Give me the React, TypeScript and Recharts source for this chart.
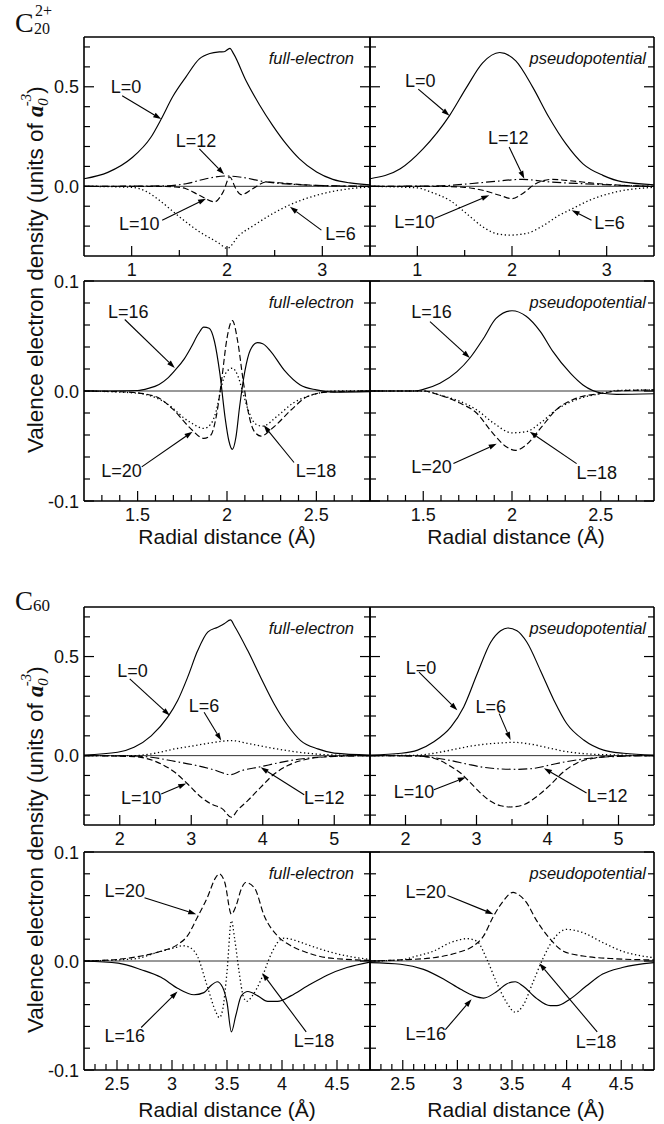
import React from 'react';
import { LineChart, Line, XAxis, YAxis, ReferenceLine, ReferenceDot } from 'recharts';

type Pt = [number, number];
type Dash = 'solid' | 'dashed' | 'dotted' | 'dashdot';

// ---------------- C20 2+ , full-electron, low L ----------------
const c20FeL0: Pt[] = [[0.5,0.038],[0.75,0.07],[1.0,0.142],[1.2,0.245],[1.31,0.338],[1.43,0.45],[1.57,0.55],[1.71,0.64],[1.82,0.667],[1.92,0.675],[1.97,0.676],[2.03,0.693],[2.07,0.665],[2.2,0.53],[2.34,0.41],[2.48,0.305],[2.62,0.213],[2.76,0.138],[2.94,0.072],[3.11,0.035],[3.29,0.017],[3.5,0.008]];
const c20FeL10: Pt[] = [[0.5,0],[1.3,0],[1.45,-0.003],[1.57,-0.012],[1.71,-0.045],[1.87,-0.078],[1.96,-0.028],[2.03,0.047],[2.09,-0.01],[2.15,-0.042],[2.27,-0.012],[2.41,0.022],[2.6,0.016],[2.8,0.008],[3.1,0.002],[3.5,0]];
const c20FeL12: Pt[] = [[0.5,0],[1.3,0.002],[1.57,0.013],[1.78,0.038],[1.99,0.052],[2.13,0.047],[2.41,0.022],[2.76,0.008],[3.2,0.002],[3.5,0]];
const c20FeL6: Pt[] = [[0.5,0],[1.0,-0.005],[1.15,-0.025],[1.29,-0.07],[1.5,-0.153],[1.71,-0.228],[1.92,-0.287],[2.0,-0.312],[2.13,-0.245],[2.27,-0.2],[2.48,-0.137],[2.65,-0.095],[2.94,-0.045],[3.29,-0.012],[3.5,-0.003]];

// ---------------- C20 2+ , pseudopotential, low L ----------------
const c20PpL0: Pt[] = [[0.5,0.038],[0.82,0.088],[1.06,0.188],[1.34,0.355],[1.52,0.497],[1.69,0.62],[1.87,0.672],[2.04,0.63],[2.22,0.497],[2.39,0.347],[2.57,0.213],[2.75,0.113],[2.96,0.055],[3.17,0.022],[3.5,0.008]];
const c20PpL10: Pt[] = [[0.5,0],[1.2,0],[1.5,-0.005],[1.69,-0.02],[1.87,-0.045],[2.0,-0.062],[2.11,-0.037],[2.25,0.013],[2.43,0.035],[2.57,0.03],[2.92,0.013],[3.2,0.004],[3.5,0]];
const c20PpL12: Pt[] = [[0.5,0],[1.2,0.002],[1.76,0.022],[2.11,0.035],[2.4,0.022],[2.75,0.013],[3.27,0.003],[3.5,0]];
const c20PpL6: Pt[] = [[0.5,0],[1.0,-0.008],[1.15,-0.03],[1.34,-0.07],[1.52,-0.137],[1.69,-0.203],[1.83,-0.237],[1.97,-0.245],[2.15,-0.237],[2.32,-0.2],[2.5,-0.145],[2.64,-0.112],[2.82,-0.07],[3.1,-0.028],[3.5,-0.005]];

// ---------------- C20 2+ , full-electron, high L ----------------
const c20FeL16: Pt[] = [[1.2,0],[1.5,0.0005],[1.56,0.0024],[1.62,0.006],[1.67,0.012],[1.71,0.019],[1.76,0.029],[1.8,0.04],[1.84,0.052],[1.87,0.058],[1.9,0.057],[1.93,0.045],[1.96,0.016],[1.99,-0.025],[2.01,-0.045],[2.03,-0.053],[2.05,-0.042],[2.07,-0.015],[2.1,0.018],[2.13,0.037],[2.17,0.044],[2.2,0.043],[2.24,0.037],[2.32,0.019],[2.41,0.0055],[2.5,0.001],[2.6,-0.001],[2.8,-0.0006]];
const c20FeL20: Pt[] = [[1.2,0],[1.45,-0.001],[1.6,-0.005],[1.7,-0.017],[1.79,-0.033],[1.87,-0.043],[1.91,-0.04],[1.94,-0.023],[1.97,0.01],[2.0,0.048],[2.03,0.064],[2.06,0.045],[2.09,0.01],[2.12,-0.02],[2.15,-0.036],[2.19,-0.041],[2.26,-0.033],[2.36,-0.017],[2.45,-0.005],[2.56,-0.001],[2.8,0]];
const c20FeL18: Pt[] = [[1.2,0],[1.5,-0.002],[1.65,-0.01],[1.79,-0.028],[1.87,-0.034],[1.91,-0.03],[1.94,-0.018],[1.97,0.005],[2.0,0.018],[2.03,0.0207],[2.06,0.014],[2.09,-0.002],[2.12,-0.018],[2.16,-0.03],[2.2,-0.032],[2.28,-0.023],[2.37,-0.011],[2.49,-0.003],[2.6,0],[2.8,0]];

// ---------------- C20 2+ , pseudopotential, high L ----------------
const c20PpL16: Pt[] = [[1.2,0],[1.45,0],[1.5,0.0015],[1.594,0.007],[1.69,0.0176],[1.763,0.03],[1.84,0.048],[1.91,0.066],[2.0,0.073],[2.08,0.068],[2.16,0.054],[2.23,0.036],[2.33,0.016],[2.4,0.0055],[2.51,-0.002],[2.59,-0.003],[2.8,-0.0025]];
const c20PpL20: Pt[] = [[1.2,0],[1.5,0],[1.59,-0.0036],[1.707,-0.011],[1.8,-0.02],[1.895,-0.039],[1.97,-0.051],[2.02,-0.054],[2.08,-0.049],[2.16,-0.034],[2.25,-0.017],[2.36,-0.0067],[2.51,-0.002],[2.59,0],[2.8,0.001]];
const c20PpL18: Pt[] = [[1.2,0],[1.5,0],[1.6,-0.004],[1.7,-0.009],[1.8,-0.017],[1.895,-0.029],[2.0,-0.038],[2.08,-0.037],[2.16,-0.029],[2.25,-0.017],[2.36,-0.008],[2.51,-0.002],[2.6,0.0005],[2.8,0.001]];

// ---------------- C60 , full-electron, low L ----------------
const c60FeL0: Pt[] = [[1.5,0.003],[1.97,0.017],[2.2,0.042],[2.44,0.1],[2.67,0.194],[2.81,0.278],[2.95,0.396],[3.09,0.53],[3.23,0.623],[3.37,0.648],[3.46,0.665],[3.55,0.685],[3.6,0.657],[3.79,0.53],[3.97,0.396],[4.16,0.261],[4.35,0.152],[4.53,0.076],[4.77,0.034],[5.0,0.013],[5.5,0.003]];
const c60FeL6: Pt[] = [[1.5,0],[2.2,0],[2.49,0.012],[2.77,0.034],[3.04,0.05],[3.32,0.067],[3.56,0.076],[3.79,0.062],[4.07,0.042],[4.35,0.025],[4.63,0.012],[5.0,0.003],[5.5,0]];
const c60FeL12: Pt[] = [[1.5,0],[2.2,-0.002],[2.44,-0.008],[2.77,-0.029],[3.04,-0.047],[3.32,-0.072],[3.55,-0.096],[3.7,-0.076],[3.97,-0.056],[4.25,-0.034],[4.53,-0.017],[4.9,-0.005],[5.5,0]];
const c60FeL10: Pt[] = [[1.5,0],[2.2,-0.005],[2.53,-0.034],[2.77,-0.084],[2.95,-0.143],[3.14,-0.21],[3.28,-0.244],[3.44,-0.27],[3.56,-0.311],[3.65,-0.274],[3.79,-0.227],[3.97,-0.16],[4.16,-0.093],[4.35,-0.05],[4.63,-0.017],[5.0,-0.004],[5.5,0]];

// ---------------- C60 , pseudopotential, low L ----------------
const c60PpL0: Pt[] = [[1.5,0.003],[1.94,0.012],[2.17,0.028],[2.4,0.07],[2.64,0.145],[2.82,0.246],[3.01,0.413],[3.2,0.572],[3.34,0.63],[3.44,0.644],[3.57,0.63],[3.71,0.572],[3.9,0.43],[4.09,0.28],[4.27,0.162],[4.51,0.079],[4.79,0.028],[5.07,0.012],[5.5,0.003]];
const c60PpL6: Pt[] = [[1.5,0],[2.17,0.002],[2.4,0.012],[2.64,0.028],[2.87,0.045],[3.1,0.057],[3.34,0.064],[3.53,0.067],[3.76,0.058],[4.04,0.037],[4.27,0.02],[4.6,0.008],[5.0,0.003],[5.5,0]];
const c60PpL12: Pt[] = [[1.5,0],[2.17,-0.002],[2.4,-0.01],[2.64,-0.025],[2.87,-0.043],[3.1,-0.059],[3.34,-0.067],[3.57,-0.069],[3.81,-0.064],[4.04,-0.047],[4.27,-0.03],[4.6,-0.013],[4.98,-0.004],[5.5,0]];
const c60PpL10: Pt[] = [[1.5,0],[2.17,-0.002],[2.4,-0.013],[2.64,-0.055],[2.78,-0.089],[2.92,-0.139],[3.06,-0.19],[3.2,-0.23],[3.34,-0.253],[3.48,-0.259],[3.67,-0.247],[3.85,-0.206],[4.04,-0.147],[4.23,-0.08],[4.41,-0.038],[4.65,-0.013],[4.98,-0.002],[5.5,0]];

// ---------------- C60 , full-electron, high L ----------------
const c60FeL20: Pt[] = [[2.2,0],[2.51,0.0015],[2.72,0.0046],[2.9,0.009],[3.05,0.015],[3.14,0.023],[3.23,0.04],[3.32,0.058],[3.4,0.077],[3.43,0.08],[3.48,0.072],[3.54,0.043],[3.58,0.05],[3.63,0.066],[3.67,0.072],[3.75,0.067],[3.84,0.041],[3.96,0.023],[4.08,0.014],[4.23,0.0077],[4.41,0.003],[4.8,0.0006]];
const c60FeL18: Pt[] = [[2.2,0],[2.66,0.002],[2.87,0.008],[3.02,0.012],[3.1,0.014],[3.15,0.013],[3.23,0.0046],[3.32,-0.023],[3.4,-0.047],[3.43,-0.052],[3.46,-0.045],[3.5,-0.01],[3.54,0.037],[3.57,0.02],[3.61,-0.01],[3.65,-0.033],[3.68,-0.037],[3.73,-0.032],[3.81,-0.017],[3.9,0.006],[3.96,0.017],[4.02,0.021],[4.08,0.02],[4.23,0.015],[4.41,0.009],[4.59,0.0046],[4.8,0.0015]];
const c60FeL16: Pt[] = [[2.2,0],[2.51,-0.002],[2.72,-0.008],[2.9,-0.015],[3.05,-0.025],[3.2,-0.031],[3.29,-0.029],[3.36,-0.022],[3.41,-0.019],[3.46,-0.024],[3.5,-0.038],[3.54,-0.065],[3.58,-0.05],[3.63,-0.032],[3.69,-0.028],[3.78,-0.032],[3.87,-0.037],[3.96,-0.037],[4.08,-0.032],[4.23,-0.023],[4.41,-0.013],[4.59,-0.006],[4.8,-0.001]];

// ---------------- C60 , pseudopotential, high L ----------------
const c60PpL20: Pt[] = [[2.2,0],[2.48,0.001],[2.78,0.003],[3.0,0.0077],[3.15,0.014],[3.24,0.023],[3.33,0.041],[3.42,0.055],[3.51,0.063],[3.54,0.062],[3.63,0.054],[3.72,0.038],[3.85,0.02],[3.97,0.009],[4.15,0.0046],[4.45,0.002],[4.8,0.001]];
const c60PpL18: Pt[] = [[2.2,0],[2.48,0.001],[2.63,0.0046],[2.78,0.009],[2.94,0.017],[3.09,0.0205],[3.18,0.018],[3.27,0.0015],[3.36,-0.02],[3.45,-0.038],[3.53,-0.047],[3.6,-0.041],[3.69,-0.02],[3.78,0.0015],[3.88,0.02],[4.0,0.029],[4.15,0.026],[4.33,0.017],[4.51,0.009],[4.69,0.0046],[4.8,0.003]];
const c60PpL16: Pt[] = [[2.2,-0.0015],[2.48,-0.003],[2.69,-0.0077],[2.88,-0.017],[3.03,-0.026],[3.15,-0.032],[3.24,-0.034],[3.36,-0.028],[3.45,-0.021],[3.53,-0.019],[3.6,-0.023],[3.72,-0.034],[3.85,-0.041],[3.91,-0.041],[4.03,-0.035],[4.18,-0.023],[4.33,-0.012],[4.51,-0.006],[4.8,-0.0015]];

// ---------------- ticks ----------------
const c20LowXTicks = [1, 1.5, 2, 2.5, 3];
const c20LowXLabels = [1, 2, 3];
const c20HighXTicks = [1.3, 1.4, 1.5, 1.6, 1.7, 1.8, 1.9, 2, 2.1, 2.2, 2.3, 2.4, 2.5, 2.6, 2.7];
const c20HighXLabels = [1.5, 2, 2.5];
const c60LowXTicks = [2, 2.5, 3, 3.5, 4, 4.5, 5];
const c60LowXLabels = [2, 3, 4, 5];
const c60HighXTicks = [2.3, 2.4, 2.5, 2.6, 2.7, 2.8, 2.9, 3, 3.1, 3.2, 3.3, 3.4, 3.5, 3.6, 3.7, 3.8, 3.9, 4, 4.1, 4.2, 4.3, 4.4, 4.5, 4.6, 4.7];
const c60HighXLabels = [2.5, 3, 3.5, 4, 4.5];
const lowYTicks = [-0.3, -0.2, -0.1, 0, 0.1, 0.2, 0.3, 0.4, 0.5, 0.6, 0.7];
const lowYLabels = [0, 0.5];
const highYTicks = [-0.1, -0.08, -0.06, -0.04, -0.02, 0, 0.02, 0.04, 0.06, 0.08, 0.1];
const highYLabels = [-0.1, 0, 0.1];

// ---------------- annotations ----------------
interface Note { t: string; tx: number; ty: number; x0: number; y0: number; x1: number; y1: number }
const notesA: Note[] = [
  { t: 'L=0', tx: 0.94, ty: 0.5, x0: 0.9, y0: 0.455, x1: 1.31, y1: 0.338 },
  { t: 'L=12', tx: 1.675, ty: 0.23, x0: 1.71, y0: 0.188, x1: 1.97, y1: 0.06 },
  { t: 'L=10', tx: 1.08, ty: -0.187, x0: 1.32, y0: -0.17, x1: 1.78, y1: -0.062 },
  { t: 'L=6', tx: 3.19, ty: -0.237, x0: 2.99, y0: -0.22, x1: 2.66, y1: -0.103 },
];
const notesB: Note[] = [
  { t: 'L=0', tx: 1.03, ty: 0.53, x0: 1.01, y0: 0.488, x1: 1.34, y1: 0.355 },
  { t: 'L=12', tx: 1.96, ty: 0.247, x0: 1.97, y0: 0.197, x1: 2.13, y1: 0.038 },
  { t: 'L=10', tx: 0.97, ty: -0.178, x0: 1.18, y0: -0.162, x1: 1.76, y1: -0.045 },
  { t: 'L=6', tx: 3.03, ty: -0.183, x0: 2.84, y0: -0.17, x1: 2.63, y1: -0.12 },
];
const notesC: Note[] = [
  { t: 'L=16', tx: 1.447, ty: 0.072, x0: 1.428, y0: 0.065, x1: 1.708, y1: 0.021 },
  { t: 'L=20', tx: 1.41, ty: -0.072, x0: 1.523, y0: -0.069, x1: 1.807, y1: -0.037 },
  { t: 'L=18', tx: 2.498, ty: -0.0726, x0: 2.375, y0: -0.065, x1: 2.205, y1: -0.031 },
];
const notesD: Note[] = [
  { t: 'L=16', tx: 1.547, ty: 0.072, x0: 1.538, y0: 0.063, x1: 1.763, y1: 0.03 },
  { t: 'L=20', tx: 1.547, ty: -0.069, x0: 1.67, y0: -0.066, x1: 1.914, y1: -0.048 },
  { t: 'L=18', tx: 2.477, ty: -0.0745, x0: 2.364, y0: -0.066, x1: 2.1, y1: -0.037 },
];
const notesE: Note[] = [
  { t: 'L=0', tx: 2.18, ty: 0.429, x0: 2.14, y0: 0.387, x1: 2.7, y1: 0.202 },
  { t: 'L=6', tx: 3.18, ty: 0.252, x0: 3.18, y0: 0.219, x1: 3.42, y1: 0.076 },
  { t: 'L=10', tx: 2.3, ty: -0.21, x0: 2.58, y0: -0.194, x1: 2.93, y1: -0.14 },
  { t: 'L=12', tx: 4.86, ty: -0.21, x0: 4.58, y0: -0.197, x1: 3.97, y1: -0.059 },
];
const notesF: Note[] = [
  { t: 'L=0', tx: 2.22, ty: 0.446, x0: 2.19, y0: 0.421, x1: 2.73, y1: 0.229 },
  { t: 'L=6', tx: 3.2, ty: 0.246, x0: 3.32, y0: 0.212, x1: 3.48, y1: 0.079 },
  { t: 'L=10', tx: 2.12, ty: -0.18, x0: 2.4, y0: -0.172, x1: 2.85, y1: -0.109 },
  { t: 'L=12', tx: 4.84, ty: -0.202, x0: 4.55, y0: -0.189, x1: 3.95, y1: -0.064 },
];
const notesG: Note[] = [
  { t: 'L=20', tx: 2.57, ty: 0.065, x0: 2.75, y0: 0.058, x1: 3.22, y1: 0.043 },
  { t: 'L=16', tx: 2.57, ty: -0.068, x0: 2.72, y0: -0.061, x1: 3.05, y1: -0.028 },
  { t: 'L=18', tx: 4.29, ty: -0.073, x0: 4.22, y0: -0.065, x1: 3.82, y1: -0.011 },
];
const notesH: Note[] = [
  { t: 'L=20', tx: 2.71, ty: 0.064, x0: 2.91, y0: 0.06, x1: 3.33, y1: 0.043 },
  { t: 'L=16', tx: 2.71, ty: -0.067, x0: 2.89, y0: -0.063, x1: 3.13, y1: -0.035 },
  { t: 'L=18', tx: 4.27, ty: -0.074, x0: 4.28, y0: -0.065, x1: 3.75, y1: -0.002 },
];

// ---------------- layout / style ----------------
const SANS = '"Liberation Sans", Arial, Helvetica, sans-serif';
const SERIF = '"Liberation Serif", "Times New Roman", serif';
const DASH: Record<Dash, string | undefined> = {
  solid: undefined,
  dashed: '6 3',
  dotted: '1.3 2.6',
  dashdot: '9 3 1.6 3',
};
const ROW_TOP = [37, 281, 607, 852];
const ROW_H = [219, 220, 218, 218];
const LEFT_X = 84;
const LEFT_W = 286;
const RIGHT_X = 370;
const RIGHT_W = 284;
const YW = 50;
const XH = 30;
const MT = 14;
const MR = 4;

interface Series { pts: Pt[]; dash: Dash }
interface RowCfg { xDomain: [number, number]; yDomain: [number, number]; xTicks: number[]; xLabels: number[]; yTicks: number[]; yLabels: number[] }

const rows: RowCfg[] = [
  { xDomain: [0.5, 3.5], yDomain: [-0.35, 0.75], xTicks: c20LowXTicks, xLabels: c20LowXLabels, yTicks: lowYTicks, yLabels: lowYLabels },
  { xDomain: [1.2, 2.8], yDomain: [-0.1, 0.1], xTicks: c20HighXTicks, xLabels: c20HighXLabels, yTicks: highYTicks, yLabels: highYLabels },
  { xDomain: [1.5, 5.5], yDomain: [-0.35, 0.75], xTicks: c60LowXTicks, xLabels: c60LowXLabels, yTicks: lowYTicks, yLabels: lowYLabels },
  { xDomain: [2.2, 4.8], yDomain: [-0.1, 0.1], xTicks: c60HighXTicks, xLabels: c60HighXLabels, yTicks: highYTicks, yLabels: highYLabels },
];

interface PanelCfg { row: number; left: boolean; series: Series[]; notes: Note[] }
const panels: PanelCfg[] = [
  { row: 0, left: true, notes: notesA, series: [{ pts: c20FeL0, dash: 'solid' }, { pts: c20FeL12, dash: 'dashdot' }, { pts: c20FeL10, dash: 'dashed' }, { pts: c20FeL6, dash: 'dotted' }] },
  { row: 0, left: false, notes: notesB, series: [{ pts: c20PpL0, dash: 'solid' }, { pts: c20PpL12, dash: 'dashdot' }, { pts: c20PpL10, dash: 'dashed' }, { pts: c20PpL6, dash: 'dotted' }] },
  { row: 1, left: true, notes: notesC, series: [{ pts: c20FeL16, dash: 'solid' }, { pts: c20FeL20, dash: 'dashed' }, { pts: c20FeL18, dash: 'dotted' }] },
  { row: 1, left: false, notes: notesD, series: [{ pts: c20PpL16, dash: 'solid' }, { pts: c20PpL20, dash: 'dashed' }, { pts: c20PpL18, dash: 'dotted' }] },
  { row: 2, left: true, notes: notesE, series: [{ pts: c60FeL0, dash: 'solid' }, { pts: c60FeL6, dash: 'dotted' }, { pts: c60FeL12, dash: 'dashdot' }, { pts: c60FeL10, dash: 'dashed' }] },
  { row: 2, left: false, notes: notesF, series: [{ pts: c60PpL0, dash: 'solid' }, { pts: c60PpL6, dash: 'dotted' }, { pts: c60PpL12, dash: 'dashdot' }, { pts: c60PpL10, dash: 'dashed' }] },
  { row: 3, left: true, notes: notesG, series: [{ pts: c60FeL20, dash: 'dashed' }, { pts: c60FeL18, dash: 'dotted' }, { pts: c60FeL16, dash: 'solid' }] },
  { row: 3, left: false, notes: notesH, series: [{ pts: c60PpL20, dash: 'dashed' }, { pts: c60PpL18, dash: 'dotted' }, { pts: c60PpL16, dash: 'solid' }] },
];

const toRows = (pts: Pt[]) => pts.map(([x, y]) => ({ x, y }));
const isIn = (arr: number[], v: number) => arr.some((m) => Math.abs(m - v) < 1e-6);

const Arrow = (props: any) => {
  const { x1, y1, x2, y2 } = props;
  const dx = x2 - x1;
  const dy = y2 - y1;
  const L = Math.hypot(dx, dy) || 1;
  const ux = dx / L;
  const uy = dy / L;
  const hl = 8;
  const hw = 2.6;
  const bx = x2 - ux * hl;
  const by = y2 - uy * hl;
  const pts = `${x2},${y2} ${bx - uy * hw},${by + ux * hw} ${bx + uy * hw},${by - ux * hw}`;
  return (
    <g>
      <line x1={x1} y1={y1} x2={bx} y2={by} stroke="#000" strokeWidth={1.1} />
      <polygon points={pts} fill="#000" />
    </g>
  );
};

function Panel({ cfg }: { cfg: PanelCfg }) {
  const r = rows[cfg.row];
  const px = cfg.left ? LEFT_X : RIGHT_X;
  const w = cfg.left ? LEFT_W : RIGHT_W;
  const py = ROW_TOP[cfg.row];
  const h = ROW_H[cfg.row];

  const XTick = (props: any) => {
    const { x, y, payload } = props;
    const v = payload.value;
    const major = isIn(r.xLabels, v);
    const len = major ? 10 : 6;
    return (
      <g>
        <line x1={x} y1={y} x2={x} y2={y - len} stroke="#000" strokeWidth={1.2} />
        {major && (
          <text x={x} y={y + 20} textAnchor="middle" fontSize={18} fontFamily={SANS} fill="#111">
            {String(v)}
          </text>
        )}
      </g>
    );
  };
  const YTick = (props: any) => {
    const { x, y, payload } = props;
    const v = payload.value;
    const major = isIn(r.yLabels, v);
    const len = major ? 10 : 6;
    return (
      <g>
        <line x1={x} y1={y} x2={x + len} y2={y} stroke="#000" strokeWidth={1.2} />
        <line x1={x + w} y1={y} x2={x + w - len} y2={y} stroke="#000" strokeWidth={1.2} />
        {cfg.left && major && (
          <text x={x - 5} y={y + 6.5} textAnchor="end" fontSize={18} fontFamily={SANS} fill="#111">
            {v.toFixed(1)}
          </text>
        )}
      </g>
    );
  };

  const [x0, x1] = r.xDomain;
  const [y0, y1] = r.yDomain;
  return (
    <div style={{ position: 'absolute', left: px - YW, top: py - MT }}>
      <LineChart width={YW + w + MR} height={MT + h + XH} margin={{ top: MT, right: MR, bottom: 0, left: 0 }}>
        <XAxis type="number" dataKey="x" domain={r.xDomain} allowDataOverflow ticks={r.xTicks} interval={0}
          tick={XTick} tickLine={false} axisLine={false} tickSize={0} tickMargin={0} height={XH} />
        <YAxis type="number" domain={r.yDomain} allowDataOverflow ticks={r.yTicks} interval={0}
          tick={YTick} tickLine={false} axisLine={false} tickSize={0} tickMargin={0} width={YW} />
        <ReferenceLine y={0} stroke="#000" strokeWidth={0.8} />
        {cfg.series.map((s, i) => (
          <Line key={i} data={toRows(s.pts)} dataKey="y" type="monotone" stroke="#000" strokeWidth={s.dash === 'dotted' ? 1.3 : 1.15}
            strokeDasharray={DASH[s.dash]} dot={false} activeDot={false} isAnimationActive={false} />
        ))}
        {cfg.notes.map((n, i) => (
          <ReferenceLine key={'a' + i} segment={[{ x: n.x0, y: n.y0 }, { x: n.x1, y: n.y1 }]} shape={Arrow} />
        ))}
        {cfg.notes.map((n, i) => (
          <ReferenceDot key={'t' + i} x={n.tx} y={n.ty} r={0} fill="none" stroke="none"
            label={{ value: n.t, position: 'center', fontSize: 18, fill: '#111', fontFamily: SANS }} />
        ))}
        <ReferenceLine x={x0} stroke="#000" strokeWidth={1.6} />
        <ReferenceLine x={x1} stroke="#000" strokeWidth={1.6} />
        <ReferenceLine y={y0} stroke="#000" strokeWidth={1.6} />
        <ReferenceLine y={y1} stroke="#000" strokeWidth={1.6} />
      </LineChart>
    </div>
  );
}

const tagLeftX = 354;
const tagRightX = 646;

export default function App() {
  return (
    <div style={{ position: 'absolute', left: 0, top: 0, width: 664, height: 1124, background: '#fff', overflow: 'hidden' }}>
      {panels.map((p, i) => (
        <Panel key={i} cfg={p} />
      ))}
      <svg width={664} height={1124} style={{ position: 'absolute', left: 0, top: 0, pointerEvents: 'none' }}>
        {/* molecule labels */}
        <text x={15} y={32} fontFamily={SERIF} fontSize={28} fill="#111">C</text>
        <text x={34} y={34} fontFamily={SERIF} fontSize={16}>
          <tspan fill="#111">20</tspan>
        </text>
        <text x={35} y={16} fontFamily={SERIF} fontSize={16} fill="#111">2+</text>
        <text x={15} y={610} fontFamily={SERIF} fontSize={27} fill="#111">C</text>
        <text x={33} y={611} fontFamily={SERIF} fontSize={17} fill="#111">60</text>

        {/* y-axis titles */}
        {[453, 1033].map((by, i) => (
          <text key={i} transform={`translate(43, ${by}) rotate(-90)`} textAnchor="start" fontFamily={SANS} fontSize={22.5} fill="#111">
            Valence electron density (units of{' '}
            <tspan fontFamily={SERIF} fontStyle="italic" fontWeight="bold">a</tspan>
            <tspan fontFamily={SERIF} fontStyle="italic" fontSize={15} dy={5}>0</tspan>
            <tspan fontFamily={SERIF} fontStyle="italic" fontSize={15} dx={-8} dy={-17}>-3</tspan>
            <tspan dy={12}>)</tspan>
          </text>
        ))}

        {/* x-axis titles */}
        {[[227, 544], [516, 544], [227, 1117], [516, 1117]].map(([x, y], i) => (
          <text key={i} x={x} y={y} textAnchor="middle" fontFamily={SANS} fontSize={21} fill="#111">
            Radial distance (Å)
          </text>
        ))}

        {/* panel tags */}
        {ROW_TOP.map((t, i) => (
          <g key={i}>
            <text x={tagLeftX} y={t + 27} textAnchor="end" fontFamily={SANS} fontStyle="italic" fontSize={16.5} fill="#111">full-electron</text>
            <text x={tagRightX} y={t + 27} textAnchor="end" fontFamily={SANS} fontStyle="italic" fontSize={16.5} fill="#111">pseudopotential</text>
          </g>
        ))}
      </svg>
    </div>
  );
}
